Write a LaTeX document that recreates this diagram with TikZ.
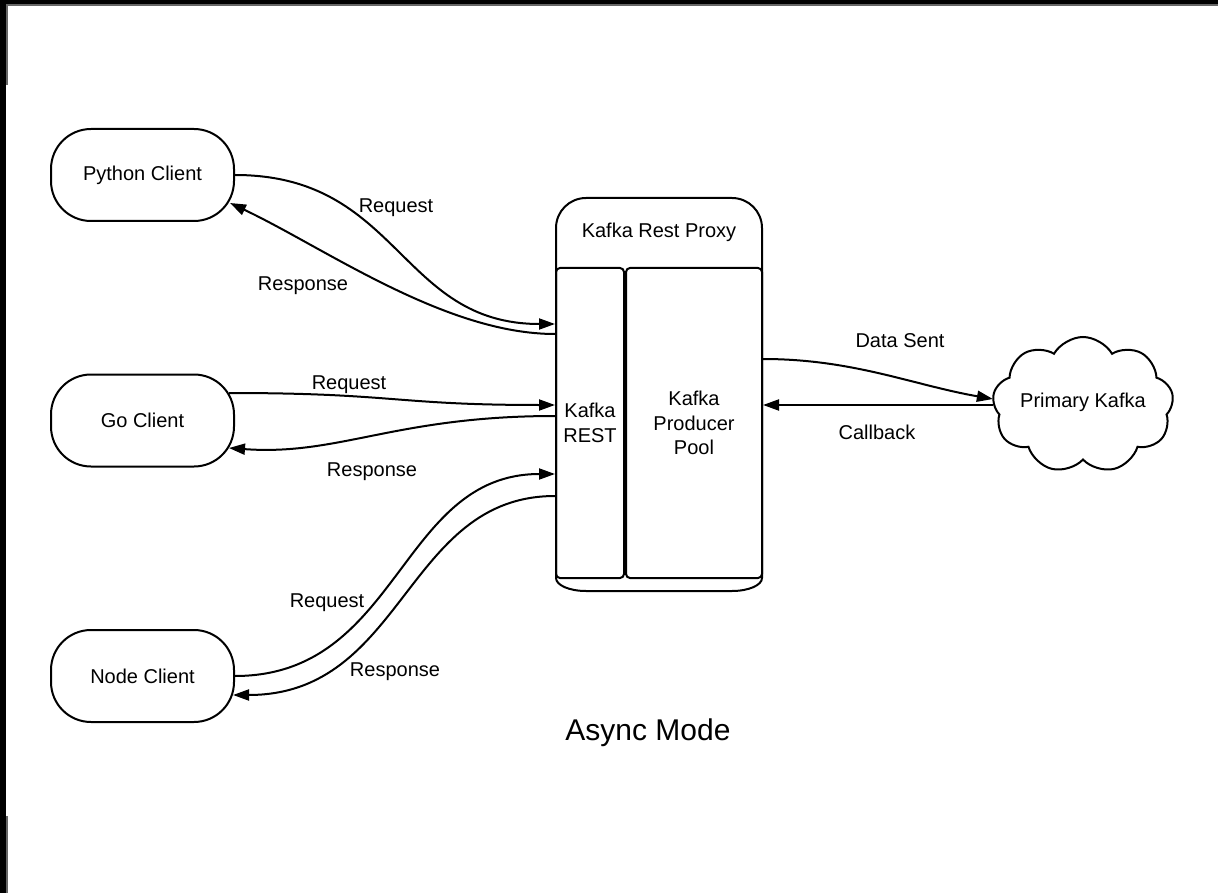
\documentclass[tikz,border=0pt]{standalone}
\usepackage{fontspec}
\setmainfont{Liberation Sans}
\usetikzlibrary{arrows.meta,shapes.symbols,calc}
\begin{document}
\begin{tikzpicture}[x=1pt,y=-1pt,line width=2pt,
  every node/.style={font=\fontsize{20}{24.5}\selectfont},
  client/.style={draw,rounded corners=40pt,minimum width=183pt,minimum height=92pt},
  inner/.style={draw,rounded corners=4pt,minimum height=310pt,align=center},
  arr/.style={-{Triangle[length=16pt,width=11pt]}},
  lbl/.style={inner sep=0pt}]
% canvas and frame
\fill[white] (0,0) rectangle (1218,893);
\fill[black] (0,0) rectangle (1218,4);
\fill[black] (0,0) rectangle (6,893);
\fill[black!60] (6,4) rectangle (1218,6);
\fill[black!60] (6,4) rectangle (8,85);
\fill[black!60] (6,816) rectangle (8,893);
% clients
\node[client] (python) at (142.5,175) {Python Client};
\node[client] (go) at (142.5,420.5) {Go Client};
\node[client] (nodec) at (142.5,676) {Node Client};
% proxy container
\draw (556,578) -- (556,228) .. controls (556,211.4) and (569.4,198) .. (586,198)
  -- (732,198) .. controls (748.6,198) and (762,211.4) .. (762,228)
  -- (762,578) .. controls (762,585.2) and (748.6,591) .. (732,591)
  -- (586,591) .. controls (569.4,591) and (556,585.2) .. (556,578) -- cycle;
\node[lbl] (ptitle) at (659,232) {Kafka Rest Proxy};
\node[inner,minimum width=68pt] (rest) at (590,423) {Kafka\\REST};
\node[inner,minimum width=136pt] (pool) at (694,423) {Kafka\\Producer\\Pool};
% cloud
\node[draw,cloud,cloud puffs=9,cloud puff arc=120,aspect=1.35,minimum width=181pt,minimum height=136pt,inner sep=0pt] (kafka) at (1083,405) {};
\node[lbl] (kafkatext) at (1083,402) {Primary Kafka};
% title
\node[lbl,font=\fontsize{30}{36}\selectfont] (title) at (648,733) {Async Mode};
% python connectors
\draw[arr] (python.east) .. controls +(165,0) and +(-156,0) .. ($(rest.west)+(0,-99)$);
\draw[arr] ($(rest.west)+(0,-89)$) .. controls +(-110,0) and +(95,45) .. ($(python.east)+(-5,28)$);
% go connectors
\draw[arr] ($(go.east)+(-6,-27.5)$) .. controls +(165,0) and +(-160,0) .. ($(rest.west)+(0,-18)$);
\draw[arr] ($(rest.west)+(0,-7)$) .. controls +(-160,0) and +(110,8) .. ($(go.east)+(-6,27.5)$);
% node connectors
\draw[arr] (nodec.east) .. controls +(165,0) and +(-156,0) .. ($(rest.west)+(0,51)$);
\draw[arr] ($(rest.west)+(0,73)$) .. controls +(-150,0) and +(172,0) .. ($(nodec.east)+(-2,19)$);
% kafka connectors
\draw[arr] ($(pool.east)+(0,-64)$) .. controls +(90,0) and +(-80,-14) .. ($(kafka.west)+(0,-6)$);
\draw[arr] (kafka.west) -- (kafka.west -| pool.east);
% labels
\node[lbl] (l1) at (396,208) {Request};
\node[lbl] (l2) at (303,286) {Response};
\node[lbl] (l3) at (349,385) {Request};
\node[lbl] (l4) at (372,472) {Response};
\node[lbl] (l5) at (327,603) {Request};
\node[lbl] (l6) at (395,672) {Response};
\node[lbl] (l7) at (900,341) {Data Sent};
\node[lbl] (l8) at (877,432) {Callback};
\end{tikzpicture}
\end{document}
